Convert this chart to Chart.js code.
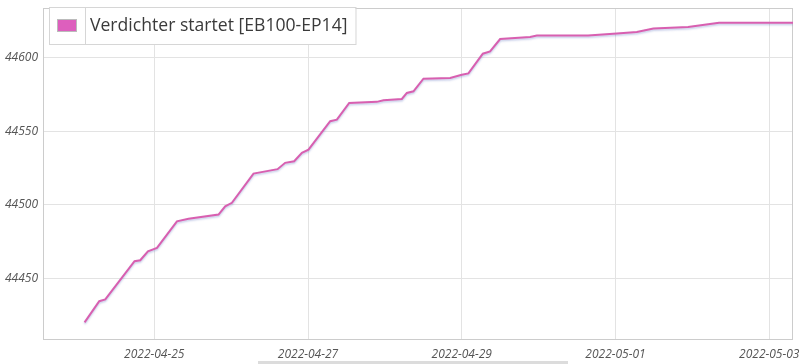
<!DOCTYPE html>
<html><head><meta charset="utf-8">
<script src="https://cdn.jsdelivr.net/npm/chart.js@4/dist/chart.umd.min.js"></script>
<style>
html,body{margin:0;padding:0;background:#fff;overflow:hidden}
#wrap{position:relative;width:812px;height:364px}
#bar{position:absolute;left:258px;top:361px;width:310px;height:3px;background:#dcdcdc}
</style></head><body>
<div id="wrap"><canvas id="c" width="812" height="364"></canvas><div id="bar"></div></div>
<script>
const seriesLabel = 'Verdichter startet [EB100-EP14]';
const times = [
 '2022-04-24 02:15','2022-04-24 06:50','2022-04-24 08:43','2022-04-24 17:51','2022-04-24 19:38',
 '2022-04-24 22:02','2022-04-25 00:51','2022-04-25 07:05','2022-04-25 10:42','2022-04-25 20:04',
 '2022-04-25 22:09','2022-04-26 00:15','2022-04-26 06:59','2022-04-26 14:30','2022-04-26 16:52',
 '2022-04-26 19:41','2022-04-26 22:06','2022-04-27 00:09','2022-04-27 06:56','2022-04-27 09:01',
 '2022-04-27 12:52','2022-04-27 21:30','2022-04-27 23:34','2022-04-28 05:18','2022-04-28 06:52',
 '2022-04-28 08:56','2022-04-28 12:03','2022-04-28 20:23','2022-04-29 00:01','2022-04-29 02:05',
 '2022-04-29 06:35','2022-04-29 08:51','2022-04-29 11:59','2022-04-29 21:20','2022-04-29 23:27',
 '2022-04-30 15:27','2022-05-01 00:25','2022-05-01 06:39','2022-05-01 11:50','2022-05-01 22:39',
 '2022-05-02 08:20','2022-05-03 07:25'
];
const values = [
 44420.0,44434.4,44435.6,44461.6,44462.3,
 44468.4,44470.7,44488.8,44490.5,44493.4,
 44499.0,44501.4,44521.3,44524.3,44528.6,
 44529.7,44535.4,44537.6,44556.9,44558.0,
 44569.4,44570.1,44571.2,44572.1,44576.2,
 44577.3,44585.9,44586.3,44588.6,44589.5,
 44602.9,44604.5,44612.9,44614.3,44615.2,
 44615.2,44616.7,44617.6,44620.0,44621.1,
 44624.0,44624.0
];
const yTicks = [44450, 44500, 44550, 44600];
const xTicks = ['2022-04-25','2022-04-27','2022-04-29','2022-05-01','2022-05-03'];
const xRange = ['2022-04-23 13:16','2022-05-03 07:25'];
const yRange = [44408, 44634];

function toMs(s){
  const parts = s.split(' ');
  const [Y,M,D] = parts[0].split('-').map(Number);
  const [h,m] = (parts[1] || '00:00').split(':').map(Number);
  return Date.UTC(Y, M-1, D, h, m);
}
function fmt(v){
  const d = new Date(v);
  const p = n => String(n).padStart(2,'0');
  return d.getUTCFullYear() + '-' + p(d.getUTCMonth()+1) + '-' + p(d.getUTCDate());
}

const LINE = '#d85fb0';
const tickFont = {family:'"Open Sans", sans-serif', style:'italic', size:12};

const framePlugin = {
  id:'frame',
  beforeDatasetsDraw(chart){
    const {ctx, chartArea:a} = chart;
    ctx.save();
    ctx.strokeStyle = '#cccccc';
    ctx.lineWidth = 1;
    ctx.strokeRect(Math.round(a.left)+0.5, Math.round(a.top)+0.5, Math.round(a.right-a.left)-1, Math.round(a.bottom-a.top)-1);
    ctx.restore();
  }
};
const shadowPlugin = {
  id:'shadow',
  beforeDatasetDraw(chart){
    const ctx = chart.ctx;
    ctx.save();
    ctx.shadowColor = 'rgba(90,110,190,0.35)';
    ctx.shadowOffsetY = 1.5;
    ctx.shadowBlur = 2;
  },
  afterDatasetDraw(chart){ chart.ctx.restore(); }
};
const legendPlugin = {
  id:'boxLegend',
  afterDraw(chart){
    const ctx = chart.ctx;
    const ds = chart.data.datasets[0];
    ctx.save();
    ctx.font = '17.6px "Open Sans", sans-serif';
    const tw = ctx.measureText(ds.label).width;
    const x0 = 49, y0 = 7, h = 37;
    const w = 41 + tw + 8;
    ctx.fillStyle = '#ffffff';
    ctx.fillRect(x0, y0, w, h);
    ctx.strokeStyle = '#d6d6d6';
    ctx.lineWidth = 1;
    ctx.strokeRect(x0+0.5, y0+0.5, w, h);
    ctx.beginPath();
    ctx.moveTo(x0+36.5, y0); ctx.lineTo(x0+36.5, y0+h);
    ctx.stroke();
    ctx.fillStyle = '#dd5fbd';
    ctx.fillRect(x0+8, y0+12, 20, 13);
    ctx.strokeStyle = '#bbbbbb';
    ctx.strokeRect(x0+8.5, y0+12.5, 19, 12);
    ctx.fillStyle = '#3a3a3a';
    ctx.textBaseline = 'middle';
    ctx.textAlign = 'left';
    ctx.fillText(ds.label, x0+41, y0+h/2);
    ctx.restore();
  }
};

new Chart(document.getElementById('c'), {
  type:'line',
  data:{
    datasets:[{
      label: seriesLabel,
      data: times.map((t,i) => ({x: toMs(t), y: values[i]})),
      borderColor: LINE,
      backgroundColor: LINE,
      borderWidth: 2,
      pointRadius: 0,
      tension: 0,
      fill: false
    }]
  },
  options:{
    responsive:false,
    animation:false,
    devicePixelRatio:1,
    layout:{padding:{top:8, right:19, left:0, bottom:0}},
    plugins:{legend:{display:false}, tooltip:{enabled:false}},
    scales:{
      x:{
        type:'linear',
        min: toMs(xRange[0]), max: toMs(xRange[1]),
        afterBuildTicks: s => { s.ticks = xTicks.map(d => ({value: toMs(d)})); },
        afterFit: s => { s.height = 24; s.paddingLeft = 0; s.paddingRight = 0; },
        ticks:{callback: v => fmt(v), font: tickFont, color:'#555555', maxRotation:0, autoSkip:false, padding:7},
        grid:{color:'#e3e3e3', drawTicks:false},
        border:{display:false}
      },
      y:{
        min: yRange[0], max: yRange[1],
        afterBuildTicks: s => { s.ticks = yTicks.map(v => ({value: v})); },
        afterFit: s => { s.width = 43; s.paddingTop = 0; s.paddingBottom = 0; },
        ticks:{callback: v => String(v), font: tickFont, color:'#555555', padding:5},
        grid:{color:'#e3e3e3', drawTicks:false},
        border:{display:false}
      }
    }
  },
  plugins:[framePlugin, shadowPlugin, legendPlugin]
});
</script>
</body></html>
